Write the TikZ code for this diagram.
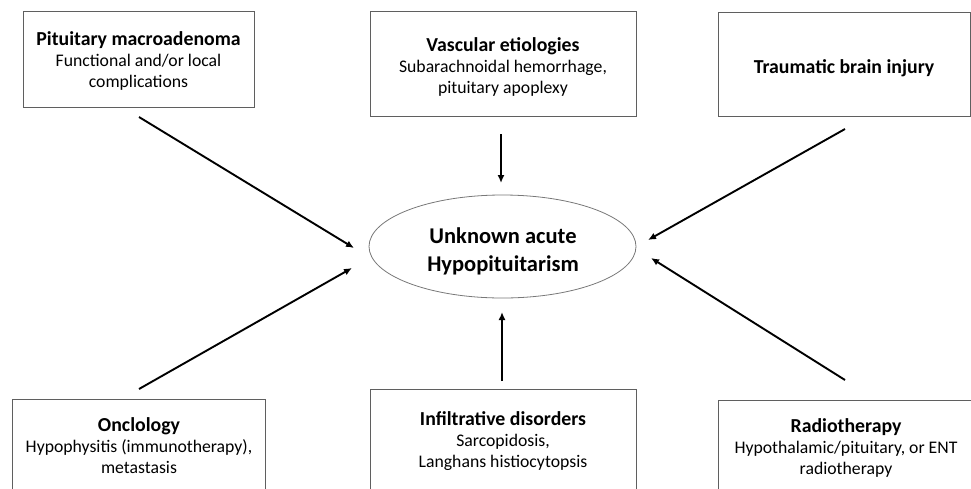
\documentclass[tikz,border=0pt]{standalone}
\usepackage{fontspec}
\setmainfont{Carlito}
\usetikzlibrary{arrows.meta,shapes.geometric}
\definecolor{boxgray}{RGB}{95,95,95}
\definecolor{ellgray}{RGB}{120,120,120}
\newcommand\hdfont{\fontsize{19.8}{21}\selectfont\bfseries}
\begin{document}
\begin{tikzpicture}[x=1pt,y=-1pt,
  box/.style={draw=boxgray,line width=1pt,inner sep=0pt},
  txt/.style={align=center,inner sep=0pt,anchor=base,font=\fontsize{17.7}{21}\selectfont},
  ctxt/.style={align=center,inner sep=0pt,anchor=base,font=\fontsize{22.5}{28}\selectfont\bfseries},
  arr/.style={line width=1.9pt,-{Latex[length=8pt,width=7pt]}}]
\useasboundingbox (0,0) rectangle (971,488);
\clip (0,0) rectangle (971,488);
% boxes
\node[box,minimum width=231,minimum height=96] (b1) at (138.5,59) {};
\node[box,minimum width=266,minimum height=105] (b2) at (503,63.5) {};
\node[box,minimum width=252,minimum height=104] (b3) at (844,64) {};
\node[box,minimum width=253,minimum height=130] (b4) at (138.5,464) {};
\node[box,minimum width=266,minimum height=130] (b5) at (503,454) {};
\node[box,minimum width=262,minimum height=130] (b6) at (849,465) {};
% texts (anchor = baseline of the last line)
\node[txt] (t1) at (138.5,87) {{\hdfont Pituitary macroadenoma}\\Functional and/or local\\complications};
\node[txt] (t2) at (503,93) {{\hdfont Vascular etiologies}\\Subarachnoidal hemorrhage,\\pituitary apoplexy};
\node[txt] (t3) at (844,73) {{\hdfont Traumatic brain injury}};
\node[txt] (t4) at (139,473) {{\hdfont Onclology}\\Hypophysitis (immunotherapy),\\metastasis};
\node[txt] (t5) at (503,467) {{\hdfont Infiltrative disorders}\\Sarcopidosis,\\Langhans histiocytopsis};
\node[txt] (t6) at (846,474) {{\hdfont Radiotherapy}\\Hypothalamic/pituitary, or ENT\\radiotherapy};
% centre
\node[draw=ellgray,line width=0.8pt,ellipse,minimum width=267,minimum height=103,inner sep=0pt] (c) at (502.5,246.5) {};
\node[ctxt] (ct) at (503,271) {Unknown acute\\Hypopituitarism};
% arrow ends
\coordinate (a1s) at (139,117); \coordinate (a1e) at (354,248);
\coordinate (a2s) at (501,134); \coordinate (a2e) at (501,183);
\coordinate (a3s) at (845,129); \coordinate (a3e) at (648,240);
\coordinate (a4s) at (139,389); \coordinate (a4e) at (352,268);
\coordinate (a5s) at (502,381); \coordinate (a5e) at (502,312);
\coordinate (a6s) at (845,380); \coordinate (a6e) at (651,258);
\draw[arr] (a1s) -- (a1e);
\draw[arr] (a2s) -- (a2e);
\draw[arr] (a3s) -- (a3e);
\draw[arr] (a4s) -- (a4e);
\draw[arr] (a5s) -- (a5e);
\draw[arr] (a6s) -- (a6e);
\end{tikzpicture}
\end{document}
